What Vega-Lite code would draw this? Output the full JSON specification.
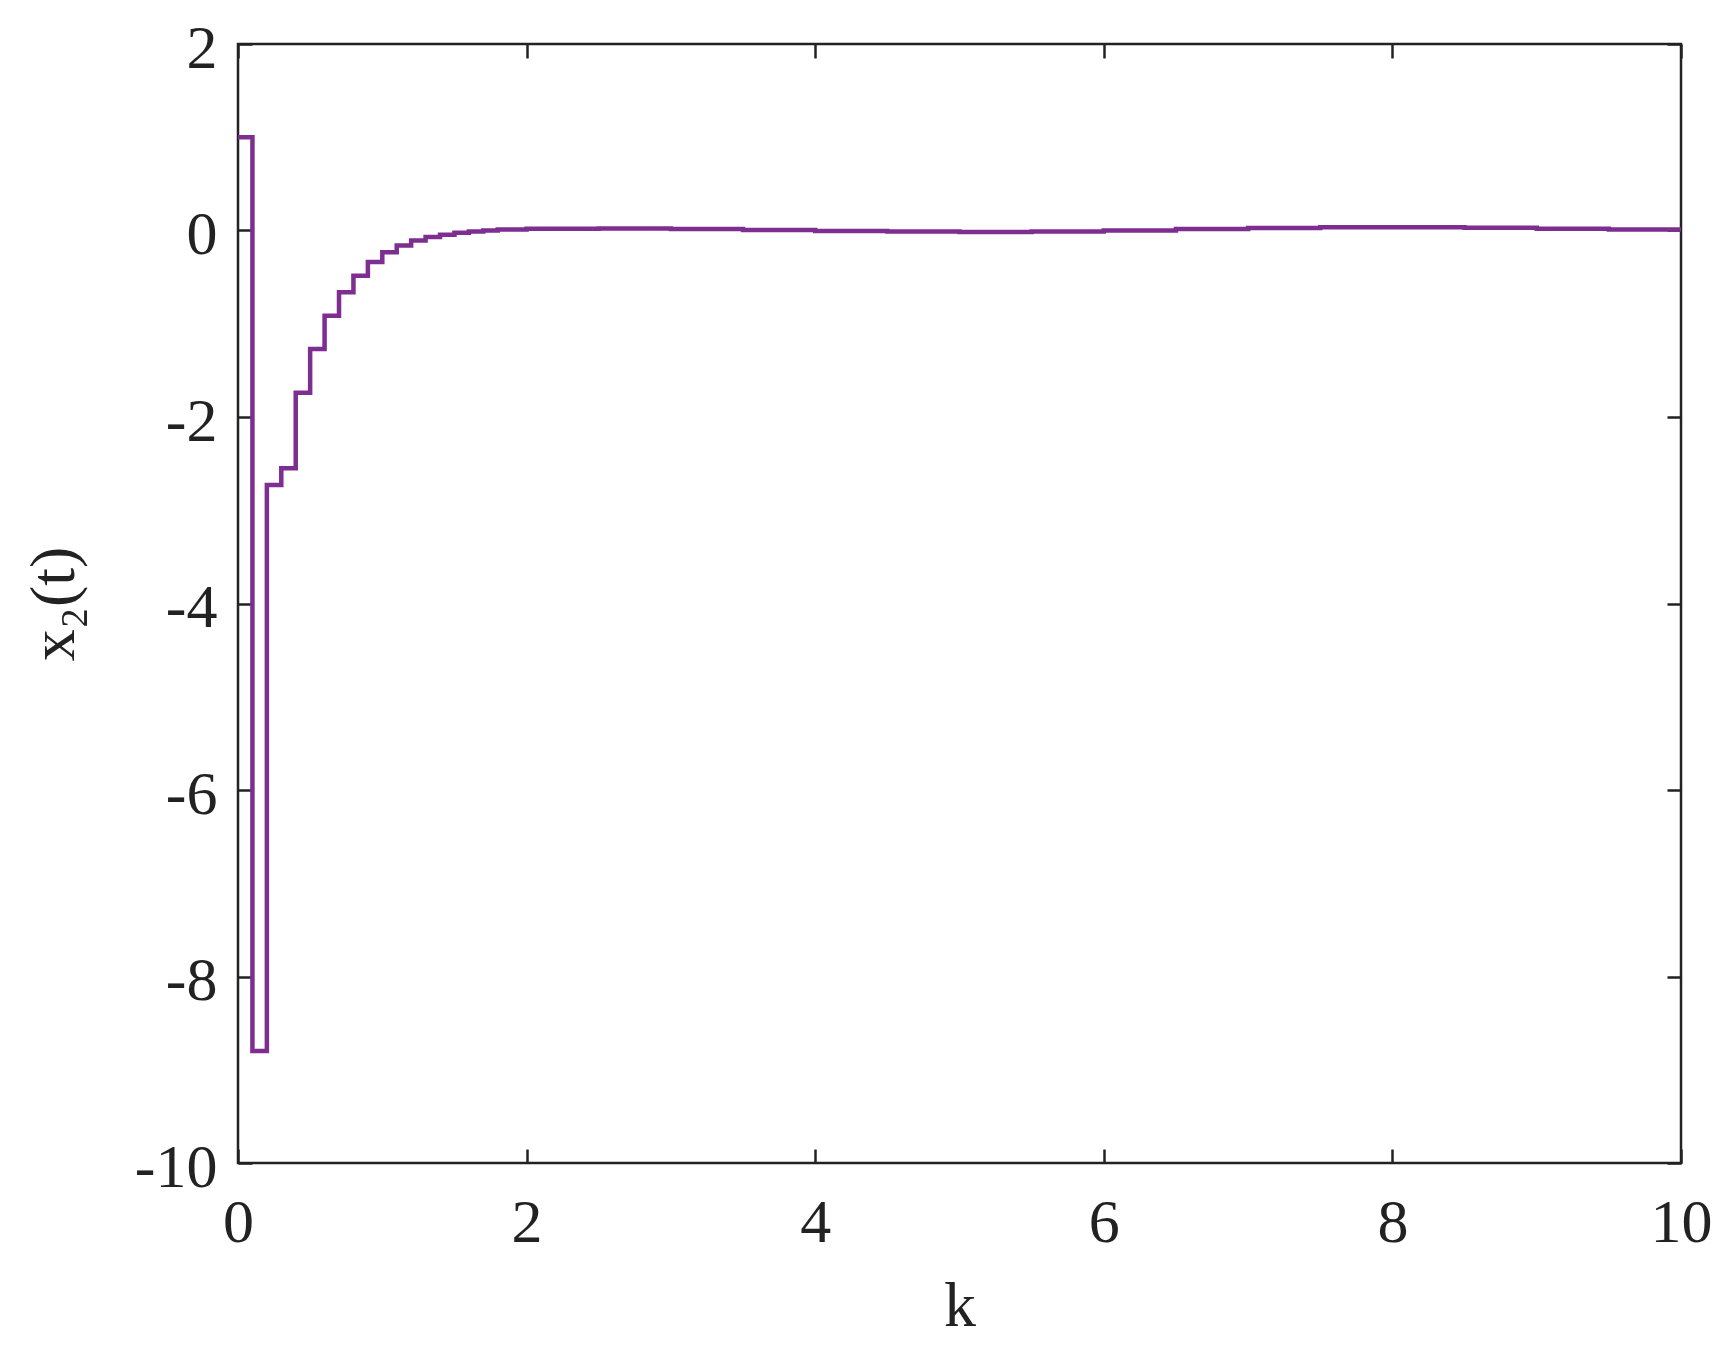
{
  "$schema": "https://vega.github.io/schema/vega-lite/v6.json",
  "width": 1443,
  "height": 1119,
  "autosize": {"type": "none"},
  "padding": {"left": 238, "top": 44, "right": 47, "bottom": 184},
  "background": "white",
  "config": {
    "view": {"stroke": "#222222", "strokeWidth": 2.5},
    "axis": {
      "grid": false,
      "domain": false,
      "tickSize": -14,
      "tickWidth": 2.5,
      "tickColor": "#222222",
      "labelFlush": false,
      "labelFont": "Liberation Serif",
      "labelFontSize": 62,
      "labelColor": "#222222",
      "titleFont": "Liberation Serif",
      "titleFontSize": 64,
      "titleFontWeight": "normal",
      "titleColor": "#222222"
    }
  },
  "data": {
    "values": [
      {"t": 0.0, "x2": 1.0},
      {"t": 0.1, "x2": -8.8},
      {"t": 0.2, "x2": -2.73},
      {"t": 0.3, "x2": -2.55},
      {"t": 0.4, "x2": -1.74},
      {"t": 0.5, "x2": -1.27},
      {"t": 0.6, "x2": -0.914},
      {"t": 0.7, "x2": -0.661},
      {"t": 0.8, "x2": -0.486},
      {"t": 0.9, "x2": -0.339},
      {"t": 1.0, "x2": -0.232},
      {"t": 1.1, "x2": -0.161},
      {"t": 1.2, "x2": -0.107},
      {"t": 1.3, "x2": -0.07},
      {"t": 1.4, "x2": -0.045},
      {"t": 1.5, "x2": -0.025},
      {"t": 1.6, "x2": -0.01},
      {"t": 1.7, "x2": 0.0},
      {"t": 1.8, "x2": 0.01},
      {"t": 2.0, "x2": 0.02},
      {"t": 2.5, "x2": 0.022},
      {"t": 3.0, "x2": 0.015},
      {"t": 3.5, "x2": 0.005},
      {"t": 4.0, "x2": -0.005},
      {"t": 4.5, "x2": -0.012},
      {"t": 5.0, "x2": -0.015},
      {"t": 5.5, "x2": -0.01},
      {"t": 6.0, "x2": 0.0},
      {"t": 6.5, "x2": 0.015},
      {"t": 7.0, "x2": 0.028},
      {"t": 7.5, "x2": 0.035},
      {"t": 8.0, "x2": 0.035},
      {"t": 8.5, "x2": 0.03},
      {"t": 9.0, "x2": 0.02},
      {"t": 9.5, "x2": 0.01},
      {"t": 10.0, "x2": 0.0}
    ]
  },
  "layer": [
    {
      "mark": {"type": "line", "interpolate": "step-after", "color": "#7E2D90", "strokeWidth": 4.5, "clip": true},
      "encoding": {
        "x": {
          "field": "t", "type": "quantitative",
          "scale": {"domain": [0, 10], "nice": false, "zero": false},
          "axis": {
            "orient": "bottom",
            "values": [0, 2, 4, 6, 8, 10],
            "labelPadding": 43,
            "labelBaseline": "top",
            "title": "k",
            "titleBaseline": "alphabetic",
            "titleY": 162
          }
        },
        "y": {
          "field": "x2", "type": "quantitative",
          "scale": {"domain": [-10, 2], "nice": false, "zero": false},
          "axis": {
            "orient": "left",
            "values": [-10, -8, -6, -4, -2, 0, 2],
            "labelPadding": 35,
            "labelOffset": 4,
            "labelBaseline": "middle",
            "labelExpr": "datum.value < 0 ? '-' + abs(datum.value) : '' + datum.value",
            "title": "x₂(t)",
            "titleAngle": -90,
            "titleBaseline": "alphabetic",
            "titleX": -165
          }
        }
      }
    },
    {
      "mark": {"type": "line", "opacity": 0},
      "encoding": {
        "x": {
          "field": "t", "type": "quantitative",
          "scale": {"domain": [0, 10], "nice": false, "zero": false},
          "axis": {"orient": "top", "values": [0, 2, 4, 6, 8, 10], "labels": false, "title": null}
        },
        "y": {
          "field": "x2", "type": "quantitative",
          "scale": {"domain": [-10, 2], "nice": false, "zero": false},
          "axis": {"orient": "right", "values": [-10, -8, -6, -4, -2, 0, 2], "labels": false, "title": null}
        }
      }
    }
  ],
  "resolve": {"axis": {"x": "independent", "y": "independent"}}
}
